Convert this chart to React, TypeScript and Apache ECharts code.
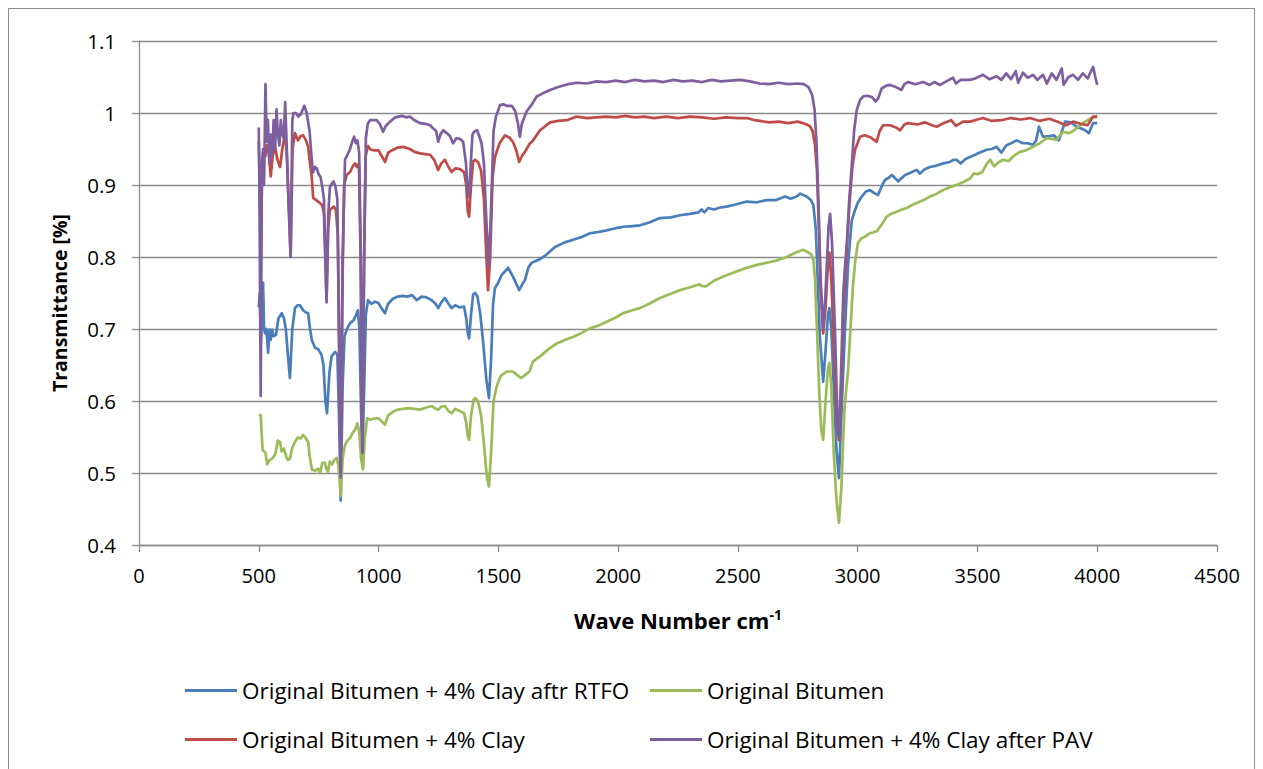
import React, { useEffect, useRef } from "react";
import * as echarts from "echarts";

const xTicks = [0, 500, 1000, 1500, 2000, 2500, 3000, 3500, 4000, 4500];
const yTicks = [0.4, 0.5, 0.6, 0.7, 0.8, 0.9, 1.0, 1.1];

const seriesNames = [
  "Original Bitumen + 4% Clay aftr RTFO",
  "Original Bitumen",
  "Original Bitumen + 4% Clay",
  "Original Bitumen + 4% Clay after PAV",
];
const seriesColors = ["#4A7EBB", "#9BBB59", "#BE4B48", "#7D5FA0"];

const rtfo: [number, number][] = [
  [500, 0.73], [504, 0.75], [509, 0.68], [514, 0.72], [518, 0.764], [522, 0.70], [526, 0.694], [532, 0.70],
  [539, 0.667], [545, 0.699], [550, 0.685], [556, 0.699], [562, 0.69], [572, 0.692], [582, 0.715], [596, 0.722],
  [605, 0.715], [613, 0.70], [620, 0.67], [630, 0.632], [640, 0.70], [651, 0.729], [662, 0.733], [672, 0.733],
  [685, 0.726], [697, 0.723], [706, 0.722], [714, 0.70], [721, 0.685], [735, 0.674], [748, 0.672], [762, 0.664],
  [770, 0.65], [778, 0.60], [785, 0.583], [795, 0.64], [804, 0.662], [818, 0.668], [828, 0.665], [835, 0.58],
  [842, 0.462], [850, 0.62], [858, 0.69], [867, 0.699], [881, 0.708], [895, 0.712], [907, 0.72], [914, 0.726],
  [920, 0.70], [926, 0.60], [932, 0.52], [940, 0.62], [947, 0.72], [956, 0.74], [970, 0.735], [985, 0.738],
  [1000, 0.736], [1010, 0.73], [1027, 0.722], [1040, 0.735], [1060, 0.742], [1080, 0.745], [1102, 0.746],
  [1120, 0.745], [1140, 0.747], [1160, 0.74], [1180, 0.745], [1200, 0.744], [1222, 0.74], [1238, 0.735],
  [1249, 0.729], [1262, 0.737], [1277, 0.743], [1292, 0.735], [1305, 0.729], [1320, 0.733], [1340, 0.73],
  [1357, 0.731], [1366, 0.715], [1372, 0.695], [1378, 0.687], [1386, 0.72], [1395, 0.748], [1403, 0.75],
  [1413, 0.745], [1425, 0.72], [1437, 0.68], [1450, 0.63], [1461, 0.604], [1470, 0.66], [1478, 0.735],
  [1486, 0.757], [1499, 0.764], [1514, 0.775], [1541, 0.785], [1556, 0.776], [1572, 0.765], [1587, 0.754],
  [1600, 0.762], [1611, 0.768], [1625, 0.785], [1639, 0.792], [1660, 0.795], [1674, 0.797], [1700, 0.803],
  [1737, 0.814], [1775, 0.82], [1812, 0.824], [1850, 0.828], [1883, 0.833], [1920, 0.835], [1952, 0.837],
  [1990, 0.84], [2022, 0.842], [2060, 0.843], [2091, 0.844], [2130, 0.848], [2175, 0.854], [2220, 0.855],
  [2258, 0.858], [2300, 0.86], [2335, 0.862], [2349, 0.866], [2360, 0.862], [2376, 0.868], [2400, 0.866],
  [2430, 0.869], [2453, 0.87], [2490, 0.873], [2537, 0.877], [2580, 0.876], [2620, 0.879], [2660, 0.879],
  [2697, 0.884], [2720, 0.881], [2745, 0.884], [2760, 0.888], [2787, 0.884], [2805, 0.879], [2815, 0.872],
  [2825, 0.84], [2833, 0.77], [2842, 0.69], [2856, 0.627], [2866, 0.67], [2876, 0.72], [2882, 0.729],
  [2890, 0.70], [2900, 0.62], [2912, 0.53], [2922, 0.493], [2932, 0.58], [2947, 0.699], [2960, 0.79],
  [2975, 0.85], [2989, 0.865], [3000, 0.875], [3017, 0.884], [3035, 0.891], [3051, 0.893], [3068, 0.889],
  [3085, 0.886], [3100, 0.898], [3114, 0.907], [3130, 0.91], [3142, 0.914], [3155, 0.91], [3169, 0.905],
  [3185, 0.91], [3198, 0.914], [3220, 0.917], [3246, 0.921], [3260, 0.916], [3280, 0.922], [3302, 0.925],
  [3330, 0.927], [3357, 0.93], [3385, 0.932], [3400, 0.935], [3413, 0.935], [3430, 0.93], [3450, 0.936],
  [3469, 0.939], [3490, 0.942], [3510, 0.945], [3539, 0.949], [3560, 0.95], [3580, 0.953], [3600, 0.945],
  [3620, 0.955], [3640, 0.958], [3664, 0.962], [3690, 0.958], [3710, 0.958], [3732, 0.956], [3745, 0.962],
  [3757, 0.981], [3774, 0.967], [3800, 0.968], [3820, 0.969], [3840, 0.962], [3866, 0.988], [3890, 0.987],
  [3914, 0.981], [3935, 0.978], [3949, 0.976], [3965, 0.972], [3983, 0.986], [4000, 0.986],
];

const original: [number, number][] = [
  [500, 0.581], [508, 0.58], [512, 0.555], [516, 0.532], [522, 0.53], [528, 0.528], [535, 0.512], [545, 0.518],
  [555, 0.52], [568, 0.525], [580, 0.545], [589, 0.543], [595, 0.53], [605, 0.534], [615, 0.522], [622, 0.518],
  [630, 0.52], [640, 0.535], [651, 0.543], [662, 0.549], [675, 0.548], [685, 0.553], [697, 0.548], [706, 0.543],
  [714, 0.52], [722, 0.505], [735, 0.503], [748, 0.506], [756, 0.50], [765, 0.514], [776, 0.514], [783, 0.505],
  [789, 0.502], [797, 0.516], [806, 0.512], [815, 0.518], [825, 0.521], [833, 0.51], [842, 0.468], [850, 0.52],
  [860, 0.539], [872, 0.546], [882, 0.549], [892, 0.556], [902, 0.56], [912, 0.569], [920, 0.555], [927, 0.52],
  [935, 0.505], [943, 0.55], [952, 0.576], [965, 0.574], [985, 0.576], [1000, 0.576], [1012, 0.572],
  [1027, 0.567], [1040, 0.58], [1060, 0.585], [1080, 0.588], [1102, 0.589], [1125, 0.59], [1150, 0.589],
  [1173, 0.588], [1200, 0.591], [1222, 0.593], [1235, 0.59], [1249, 0.588], [1262, 0.592], [1277, 0.593],
  [1292, 0.586], [1305, 0.583], [1320, 0.589], [1340, 0.586], [1357, 0.583], [1366, 0.57], [1372, 0.552],
  [1378, 0.546], [1386, 0.58], [1397, 0.602], [1405, 0.604], [1415, 0.60], [1428, 0.58], [1440, 0.54],
  [1452, 0.495], [1461, 0.481], [1470, 0.53], [1480, 0.60], [1493, 0.62], [1510, 0.635], [1535, 0.641],
  [1560, 0.641], [1575, 0.637], [1595, 0.632], [1615, 0.637], [1630, 0.641], [1645, 0.655], [1674, 0.662],
  [1710, 0.672], [1744, 0.68], [1780, 0.685], [1812, 0.689], [1850, 0.695], [1883, 0.701], [1920, 0.705],
  [1952, 0.71], [1990, 0.716], [2022, 0.722], [2060, 0.726], [2091, 0.729], [2130, 0.735], [2175, 0.743],
  [2220, 0.749], [2258, 0.754], [2300, 0.758], [2340, 0.762], [2349, 0.76], [2365, 0.759], [2400, 0.767],
  [2439, 0.773], [2480, 0.778], [2537, 0.785], [2580, 0.789], [2620, 0.792], [2660, 0.795], [2704, 0.80],
  [2740, 0.806], [2772, 0.81], [2790, 0.807], [2805, 0.804], [2815, 0.796], [2822, 0.77], [2830, 0.70],
  [2840, 0.61], [2848, 0.56], [2856, 0.546], [2866, 0.60], [2876, 0.645], [2882, 0.653], [2890, 0.62],
  [2900, 0.53], [2912, 0.46], [2922, 0.431], [2932, 0.48], [2945, 0.59], [2960, 0.643], [2970, 0.70],
  [2980, 0.758], [2990, 0.795], [3001, 0.819], [3015, 0.826], [3030, 0.828], [3050, 0.833], [3065, 0.834],
  [3080, 0.836], [3100, 0.845], [3121, 0.856], [3140, 0.86], [3163, 0.863], [3185, 0.866], [3205, 0.868],
  [3225, 0.872], [3246, 0.875], [3275, 0.879], [3302, 0.884], [3330, 0.888], [3357, 0.893], [3385, 0.897],
  [3413, 0.90], [3440, 0.904], [3469, 0.909], [3485, 0.916], [3500, 0.915], [3520, 0.918], [3540, 0.93],
  [3553, 0.935], [3570, 0.926], [3590, 0.932], [3608, 0.935], [3630, 0.933], [3650, 0.94], [3677, 0.946],
  [3700, 0.948], [3732, 0.953], [3760, 0.958], [3789, 0.965], [3810, 0.964], [3830, 0.963], [3858, 0.974],
  [3880, 0.972], [3900, 0.975], [3914, 0.979], [3940, 0.986], [3960, 0.99], [3976, 0.993], [4000, 0.995],
];

const clay: [number, number][] = [
  [500, 0.96], [504, 0.90], [509, 0.80], [514, 0.93], [520, 0.95], [527, 0.94], [535, 0.955], [542, 0.945],
  [550, 0.912], [558, 0.94], [568, 0.953], [578, 0.935], [589, 0.925], [598, 0.95], [609, 0.969], [616, 0.95],
  [624, 0.88], [633, 0.80], [641, 0.95], [651, 0.972], [664, 0.962], [675, 0.968], [685, 0.969], [697, 0.962],
  [706, 0.953], [714, 0.93], [721, 0.912], [727, 0.882], [740, 0.879], [755, 0.875], [765, 0.872], [772, 0.86],
  [783, 0.74], [790, 0.84], [797, 0.865], [805, 0.868], [814, 0.87], [822, 0.865], [830, 0.83], [836, 0.65],
  [842, 0.50], [849, 0.75], [856, 0.90], [867, 0.914], [881, 0.918], [894, 0.927], [902, 0.93], [910, 0.925],
  [918, 0.93], [925, 0.80], [932, 0.535], [939, 0.78], [946, 0.94], [956, 0.954], [968, 0.949], [985, 0.948],
  [1000, 0.948], [1010, 0.942], [1027, 0.932], [1040, 0.945], [1055, 0.948], [1080, 0.952], [1102, 0.953],
  [1131, 0.95], [1150, 0.946], [1173, 0.944], [1195, 0.943], [1215, 0.942], [1232, 0.935], [1249, 0.921],
  [1262, 0.93], [1277, 0.935], [1292, 0.925], [1305, 0.918], [1320, 0.923], [1340, 0.922], [1357, 0.918],
  [1366, 0.90], [1372, 0.865], [1378, 0.856], [1386, 0.90], [1395, 0.933], [1403, 0.935], [1415, 0.932],
  [1428, 0.92], [1440, 0.88], [1450, 0.80], [1457, 0.754], [1466, 0.80], [1476, 0.91], [1486, 0.939],
  [1505, 0.958], [1528, 0.969], [1545, 0.966], [1561, 0.96], [1575, 0.948], [1587, 0.932], [1598, 0.94],
  [1611, 0.946], [1630, 0.957], [1645, 0.962], [1674, 0.976], [1716, 0.987], [1750, 0.989], [1786, 0.99],
  [1827, 0.995], [1870, 0.993], [1910, 0.994], [1950, 0.995], [1990, 0.994], [2030, 0.996], [2070, 0.994],
  [2110, 0.995], [2150, 0.993], [2200, 0.995], [2250, 0.993], [2300, 0.995], [2350, 0.994], [2400, 0.992],
  [2450, 0.994], [2500, 0.993], [2537, 0.993], [2570, 0.99], [2592, 0.989], [2630, 0.987], [2670, 0.988],
  [2710, 0.986], [2750, 0.988], [2780, 0.985], [2800, 0.982], [2812, 0.975], [2822, 0.955], [2830, 0.92],
  [2838, 0.84], [2846, 0.75], [2856, 0.694], [2866, 0.73], [2876, 0.79], [2882, 0.806], [2890, 0.77],
  [2900, 0.68], [2912, 0.58], [2922, 0.546], [2932, 0.62], [2940, 0.72], [2947, 0.764], [2956, 0.82],
  [2966, 0.875], [2978, 0.925], [2989, 0.949], [3010, 0.967], [3030, 0.969], [3055, 0.966], [3079, 0.96],
  [3092, 0.975], [3106, 0.983], [3135, 0.983], [3160, 0.98], [3177, 0.976], [3195, 0.984], [3210, 0.986],
  [3250, 0.984], [3280, 0.987], [3310, 0.983], [3330, 0.981], [3360, 0.986], [3390, 0.99], [3410, 0.982],
  [3440, 0.988], [3469, 0.988], [3500, 0.991], [3523, 0.993], [3560, 0.989], [3600, 0.99], [3640, 0.993],
  [3680, 0.991], [3720, 0.993], [3760, 0.989], [3800, 0.992], [3840, 0.987], [3870, 0.983], [3900, 0.988],
  [3930, 0.985], [3960, 0.983], [3983, 0.995], [4000, 0.995],
];

const pav: [number, number][] = [
  [500, 0.98], [503, 0.88], [508, 0.607], [513, 0.93], [518, 0.95], [522, 0.90], [528, 1.04], [533, 0.96],
  [538, 0.99], [544, 0.93], [550, 0.97], [556, 0.94], [562, 0.99], [568, 0.95], [574, 1.005], [580, 0.97],
  [586, 0.955], [592, 0.99], [598, 0.97], [604, 0.965], [610, 1.015], [616, 0.96], [624, 0.88], [633, 0.80],
  [640, 0.99], [645, 1.0], [655, 1.0], [665, 0.995], [675, 0.998], [690, 1.01], [700, 1.0], [712, 0.975],
  [720, 0.94], [726, 0.917], [735, 0.925], [742, 0.923], [750, 0.915], [758, 0.911], [766, 0.895], [772, 0.88],
  [783, 0.737], [790, 0.86], [797, 0.897], [805, 0.902], [812, 0.905], [820, 0.898], [828, 0.88], [835, 0.70],
  [842, 0.494], [850, 0.80], [860, 0.935], [870, 0.942], [880, 0.949], [890, 0.96], [898, 0.967], [905, 0.958],
  [912, 0.962], [919, 0.945], [926, 0.80], [933, 0.528], [940, 0.80], [947, 0.965], [955, 0.985], [965, 0.99],
  [980, 0.99], [992, 0.99], [1005, 0.985], [1019, 0.974], [1030, 0.982], [1048, 0.988], [1070, 0.994],
  [1097, 0.996], [1115, 0.994], [1131, 0.995], [1150, 0.99], [1173, 0.986], [1195, 0.985], [1215, 0.983],
  [1230, 0.978], [1240, 0.975], [1249, 0.96], [1258, 0.97], [1270, 0.976], [1285, 0.972], [1298, 0.968],
  [1311, 0.958], [1325, 0.965], [1340, 0.964], [1353, 0.96], [1365, 0.93], [1372, 0.89], [1378, 0.884],
  [1385, 0.93], [1392, 0.97], [1399, 0.974], [1411, 0.976], [1420, 0.968], [1430, 0.958], [1440, 0.93],
  [1450, 0.85], [1461, 0.787], [1470, 0.87], [1480, 0.975], [1490, 0.995], [1507, 1.011], [1520, 1.012],
  [1535, 1.01], [1556, 1.01], [1570, 1.003], [1582, 0.985], [1590, 0.967], [1598, 0.985], [1618, 1.002],
  [1640, 1.012], [1660, 1.023], [1690, 1.028], [1716, 1.032], [1750, 1.036], [1790, 1.04], [1830, 1.042],
  [1870, 1.041], [1910, 1.044], [1950, 1.043], [1990, 1.045], [2030, 1.043], [2070, 1.046], [2110, 1.044],
  [2150, 1.045], [2190, 1.043], [2230, 1.046], [2270, 1.044], [2310, 1.045], [2350, 1.043], [2390, 1.046],
  [2430, 1.044], [2470, 1.045], [2510, 1.046], [2550, 1.044], [2590, 1.041], [2630, 1.04], [2670, 1.042],
  [2710, 1.04], [2750, 1.041], [2775, 1.04], [2795, 1.036], [2810, 1.025], [2820, 1.005], [2828, 0.96],
  [2836, 0.88], [2845, 0.77], [2856, 0.70], [2866, 0.75], [2878, 0.84], [2885, 0.86], [2893, 0.82],
  [2905, 0.70], [2915, 0.58], [2922, 0.55], [2930, 0.63], [2940, 0.75], [2947, 0.786], [2955, 0.82],
  [2965, 0.88], [2975, 0.925], [2985, 0.975], [2996, 1.004], [3010, 1.018], [3023, 1.023], [3040, 1.024],
  [3060, 1.022], [3075, 1.016], [3085, 1.02], [3100, 1.034], [3120, 1.038], [3135, 1.039], [3160, 1.036],
  [3183, 1.032], [3195, 1.04], [3210, 1.043], [3240, 1.04], [3273, 1.043], [3300, 1.039], [3320, 1.043],
  [3344, 1.039], [3370, 1.044], [3398, 1.049], [3410, 1.041], [3430, 1.046], [3469, 1.046], [3490, 1.048],
  [3523, 1.053], [3550, 1.047], [3580, 1.051], [3600, 1.046], [3620, 1.055], [3640, 1.047], [3660, 1.058],
  [3670, 1.042], [3690, 1.056], [3710, 1.049], [3732, 1.053], [3750, 1.046], [3774, 1.053], [3790, 1.041],
  [3810, 1.055], [3830, 1.046], [3852, 1.062], [3860, 1.039], [3880, 1.05], [3899, 1.053], [3920, 1.046],
  [3940, 1.055], [3960, 1.048], [3983, 1.064], [3992, 1.05], [4000, 1.039],
];

const seriesData = [rtfo, original, clay, pav];

const FONT = "'Open Sans', 'Noto Sans', sans-serif";

export default function App() {
  const ref = useRef<HTMLDivElement>(null);
  useEffect(() => {
    if (!ref.current) return;
    const chart = echarts.init(ref.current, undefined, { renderer: "svg" });
    const legendPos = [
      { left: 185, top: 679 },
      { left: 650, top: 679 },
      { left: 185, top: 728 },
      { left: 650, top: 728 },
    ];
    chart.setOption({
      animation: false,
      backgroundColor: "#ffffff",
      textStyle: { fontFamily: FONT },
      grid: { left: 139, right: 46, top: 41, bottom: 224, containLabel: false },
      graphic: [
        {
          type: "rect",
          shape: { x: 8.5, y: 8.5, width: 1246, height: 790 },
          style: { fill: "none", stroke: "#8c8c8c", lineWidth: 1 },
          silent: true,
        },
      ],
      legend: seriesNames.map((n, i) => ({
        data: [n],
        left: legendPos[i].left,
        top: legendPos[i].top,
        padding: 0,
        icon: "rect",
        itemWidth: 52,
        itemHeight: 3,
        itemGap: 4,
        textStyle: { fontSize: 22.5, color: "#000", fontFamily: FONT },
        selectedMode: false,
      })),
      xAxis: {
        type: "value",
        min: 0,
        max: 4500,
        interval: 500,
        name: "{a|Wave Number cm}{b|-1}",
        nameLocation: "middle",
        nameGap: 62,
        nameTextStyle: {
          rich: {
            a: { fontSize: 22, fontWeight: "bold", color: "#000", fontFamily: FONT },
            b: { fontSize: 14, fontWeight: "bold", color: "#000", fontFamily: FONT, verticalAlign: "top", padding: [0, 0, 11, 0] },
          },
        },
        axisLine: { show: true, lineStyle: { color: "#8c8c8c", width: 1.3 } },
        axisTick: { show: true, length: 7, inside: false, lineStyle: { color: "#8c8c8c", width: 1.3 } },
        axisLabel: {
          fontSize: 20,
          color: "#000",
          margin: 20,
          formatter: (v: number) => (xTicks.includes(v) ? String(v) : ""),
        },
        splitLine: { show: false },
      },
      yAxis: {
        type: "value",
        min: 0.4,
        max: 1.1,
        interval: 0.1,
        name: "Transmittance [%]",
        nameLocation: "middle",
        nameGap: 70,
        nameTextStyle: { fontSize: 19.5, fontWeight: "bold", color: "#000", fontFamily: FONT, padding: [0, 20, 0, 0] },
        axisLine: { show: true, lineStyle: { color: "#8c8c8c", width: 1.3 } },
        axisTick: { show: true, length: 7, inside: false, lineStyle: { color: "#8c8c8c", width: 1.3 } },
        axisLabel: {
          fontSize: 20.5,
          color: "#000",
          margin: 23,
          formatter: (v: number) => {
            const r = Math.round(v * 10) / 10;
            const t = yTicks.find((y) => Math.abs(y - r) < 1e-9);
            return t === undefined ? "" : String(t);
          },
        },
        splitLine: { show: true, lineStyle: { color: "#8c8c8c", width: 1.3 } },
      },
      series: seriesNames.map((n, i) => ({
        name: n,
        type: "line",
        data: seriesData[i],
        showSymbol: false,
        symbol: "none",
        color: seriesColors[i],
        lineStyle: { width: 2.7, color: seriesColors[i], join: "round" },
        z: 2 + i,
      })),
    });
    return () => chart.dispose();
  }, []);
  return (
    <div
      ref={ref}
      style={{ position: "fixed", left: 0, top: 0, width: 1263, height: 769, background: "#fff" }}
    />
  );
}
